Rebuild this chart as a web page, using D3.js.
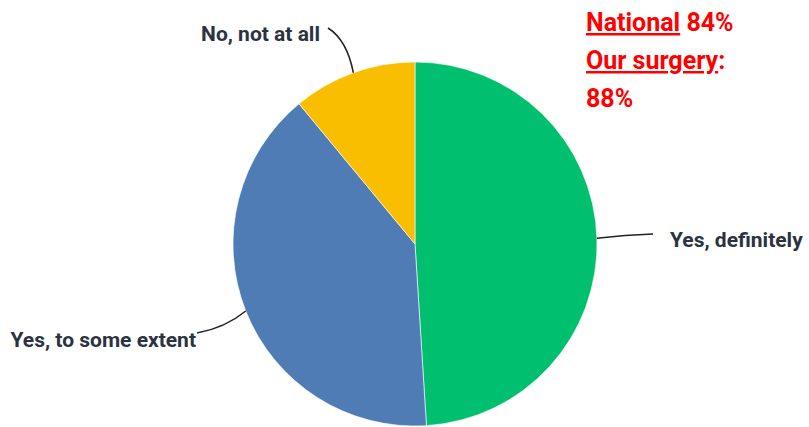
<!DOCTYPE html>
<html>
<head>
<meta charset="utf-8">
<script src="https://cdn.jsdelivr.net/npm/d3@7"></script>
<style>
  body { margin: 0; background: #fff; }
  svg { display: block; }
</style>
</head>
<body>
<svg id="chart" width="809" height="427"></svg>
<script>
// answers and their share (%)
var categories = ["Yes, definitely", "Yes, to some extent", "No, not at all"];
var values = [49, 40, 11];
var colors = ["#00bf6f", "#507cb6", "#f9be00"];
var noteLines = [
  [{ t: "National", u: true }, { t: " 84%", u: false }],
  [{ t: "Our surgery", u: true }, { t: ":", u: false }],
  [{ t: "88%", u: false }]
];

var svg = d3.select("#chart");
var cx = 415, cy = 244, r = 182;

var pie = d3.pie().sort(null).value(function (d) { return d; });
var arcs = pie(values);
var arc = d3.arc().innerRadius(0).outerRadius(r);

var g = svg.append("g").attr("transform", "translate(" + cx + "," + cy + ")");

g.selectAll("path.slice").data(arcs).enter().append("path")
  .attr("class", "slice")
  .attr("d", arc)
  .attr("fill", function (d, i) { return colors[i]; })
  .attr("stroke", "#fff")
  .attr("stroke-width", 0.6);

// label placement relative to the pie centre, leader end and curve control
var labelPos = [
  { x: 255, y: -4, anchor: "start", end: [238, -10], ctrl: [210, -9] },
  { x: -219, y: 96, anchor: "end", end: [-218, 89], ctrl: [-190, 84] },
  { x: -95, y: -210, anchor: "end", end: [-87, -216], ctrl: [-68, -204] }
];

arcs.forEach(function (d, i) {
  var a = (d.startAngle + d.endAngle) / 2;
  var sx = Math.sin(a) * r, sy = -Math.cos(a) * r;
  var p = labelPos[i];
  var path = d3.path();
  path.moveTo(sx, sy);
  path.quadraticCurveTo(p.ctrl[0], p.ctrl[1], p.end[0], p.end[1]);
  g.append("path")
    .attr("d", path.toString())
    .attr("fill", "none")
    .attr("stroke", "#222")
    .attr("stroke-width", 1.5);

  g.append("text")
    .attr("x", p.x)
    .attr("y", p.y)
    .attr("dy", "0.35em")
    .attr("text-anchor", p.anchor)
    .style("font-family", "Roboto")
    .style("font-weight", "700")
    .style("font-size", "21px")
    .style("fill", "#2b3341")
    .text(categories[i]);
});

// red note, top right
var note = svg.append("g").attr("transform", "translate(586,0)");
noteLines.forEach(function (line, i) {
  var t = note.append("text")
    .attr("x", 0)
    .attr("y", 31 + i * 38)
    .style("font-family", "Roboto")
    .style("font-weight", "700")
    .style("font-size", "25px")
    .style("fill", "#ff0000");
  line.forEach(function (s) {
    t.append("tspan")
      .style("text-decoration", s.u ? "underline" : "none")
      .text(s.t);
  });
});
</script>
</body>
</html>
